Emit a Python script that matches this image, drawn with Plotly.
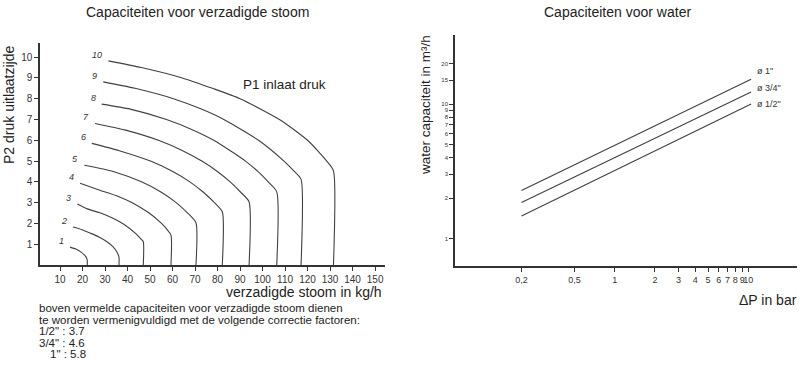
import plotly.graph_objects as go

# ---------------- data: saturated steam (left chart) ----------------
p1_levels = [1, 2, 3, 4, 5, 6, 7, 8, 9, 10]
steam_x = [
    [14.4, 17.0, 19.2, 20.9, 21.8, 22.1, 22.1],
    [15.7, 19.5, 23.3, 27.5, 30.7, 33.5, 35.4, 36.2, 36.2],
    [17.7, 22.1, 28.0, 33.5, 38.5, 43.8, 46.0, 47.0, 47.0],
    [18.9, 27.7, 35.9, 42.1, 49.6, 55.1, 57.6, 59.3, 59.3],
    [20.8, 33.6, 46.2, 55.0, 61.6, 66.7, 70.4, 70.4],
    [24.1, 36.3, 50.2, 60.1, 67.7, 73.7, 78.6, 82.1, 82.1],
    [25.6, 38.7, 53.7, 64.5, 73.0, 79.9, 85.6, 90.3, 94.0, 94.0],
    [28.5, 41.2, 57.3, 69.0, 78.3, 92.4, 97.9, 102.5, 106.3, 106.3],
    [29.2, 43.3, 60.4, 72.8, 82.8, 98.2, 109.5, 114.1, 117.1, 117.1],
    [31.5, 46.1, 64.3, 77.7, 90.0, 107.5, 120.0, 128.5, 131.5, 131.5],
]
steam_y = [
    [0.86, 0.77, 0.63, 0.47, 0.34, 0.22, 0],
    [1.83, 1.71, 1.54, 1.34, 1.13, 0.88, 0.60, 0.38, 0],
    [2.93, 2.70, 2.50, 2.25, 1.95, 1.50, 1.25, 1.12, 0],
    [3.93, 3.60, 3.30, 3.00, 2.50, 2.00, 1.70, 1.44, 0],
    [4.80, 4.50, 4.00, 3.50, 3.00, 2.50, 2.03, 0],
    [5.85, 5.50, 5.00, 4.50, 4.00, 3.50, 3.00, 2.56, 0],
    [6.81, 6.50, 6.00, 5.50, 5.00, 4.50, 4.00, 3.50, 3.04, 0],
    [7.74, 7.50, 7.00, 6.50, 6.00, 5.00, 4.50, 4.00, 3.52, 0],
    [8.81, 8.50, 8.00, 7.50, 7.00, 6.00, 5.00, 4.50, 4.12, 0],
    [9.82, 9.50, 9.00, 8.50, 8.00, 7.00, 6.00, 5.00, 4.53, 0],
]
steam_xticks = [10, 20, 30, 40, 50, 60, 70, 80, 90, 100, 110, 120, 130, 140, 150]
steam_yticks = [1, 2, 3, 4, 5, 6, 7, 8, 9, 10]

# ---------------- data: water (right chart) ----------------
dp_bar = [0.2, 10.5]
water_series = {
    'ø 1"': [2.27, 15.3],
    'ø 3/4"': [1.85, 12.3],
    'ø 1/2"': [1.47, 10.0],
}
water_xticks = [0.2, 0.5, 1, 2, 3, 4, 5, 6, 7, 8, 9, 10]
water_xticktext = ["0,2", "0,5", "1", "2", "3", "4", "5", "6", "7", "8", "9", "10"]
water_yticks = [1, 2, 3, 4, 5, 6, 7, 8, 9, 10, 15, 20]

correction_lines = [
    "boven vermelde capaciteiten voor verzadigde stoom dienen",
    "te worden vermenigvuldigd met de volgende correctie factoren:",
    '1/2" : 3.7',
    '3/4" : 4.6',
    '1" : 5.8',
]

# ---------------- figure ----------------
W, H = 800, 384
FONT = "Liberation Sans, Arial, sans-serif"
INK = "#333333"
LINE = "#404040"


def px(x):
    return x / W


def py(y):
    return 1 - y / H


fig = go.Figure()

for lvl, xs, ys in zip(p1_levels, steam_x, steam_y):
    fig.add_trace(go.Scatter(
        x=xs, y=ys, mode="lines", xaxis="x", yaxis="y",
        line=dict(color=LINE, width=1.1, shape="spline", smoothing=0.6),
        hoverinfo="skip", showlegend=False))
    fig.add_annotation(
        x=xs[0], y=ys[0], xref="x", yref="y", text=f"<i>{lvl}</i>",
        showarrow=False, xanchor="right", yanchor="middle",
        xshift=-4, yshift=6, font=dict(family=FONT, size=9, color=INK))

for name, vals in water_series.items():
    fig.add_trace(go.Scatter(
        x=dp_bar, y=vals, mode="lines", xaxis="x2", yaxis="y2",
        line=dict(color=LINE, width=1.1),
        hoverinfo="skip", showlegend=False))

axis_common = dict(
    showgrid=False, zeroline=False, showline=True, linecolor=INK, linewidth=1.5,
    ticks="outside", ticklen=4, tickwidth=1, tickcolor=INK, tickangle=0,
    tickfont=dict(family=FONT, size=10, color=INK), mirror=False,
)

fig.update_layout(
    width=W, height=H,
    margin=dict(l=0, r=0, t=0, b=0),
    paper_bgcolor="white", plot_bgcolor="white",
    showlegend=False,
    xaxis=dict(domain=[px(40), px(385)], range=[1.1, 154.4],
               tickvals=steam_xticks, anchor="y", **axis_common),
    yaxis=dict(domain=[py(265), py(43)], range=[0, 10.68],
               tickvals=steam_yticks, anchor="x", **axis_common),
    xaxis2=dict(domain=[px(455), px(797)], type="log", range=[-1.197, 1.365],
                tickvals=water_xticks, ticktext=water_xticktext, anchor="y2",
                **{**axis_common, "tickfont": dict(family=FONT, size=9, color=INK)}),
    yaxis2=dict(domain=[py(266), py(35)], type="log", range=[-0.2045, 1.513],
                tickvals=water_yticks, anchor="x2",
                **{**axis_common, "tickfont": dict(family=FONT, size=6, color=INK)}),
)


def note(text, x, y, size=12, xanchor="center", angle=0, color="#222222"):
    fig.add_annotation(text=text, x=px(x), y=py(y), xref="paper", yref="paper",
                       showarrow=False, xanchor=xanchor, yanchor="middle",
                       textangle=angle, font=dict(family=FONT, size=size, color=color))


note("Capaciteiten voor verzadigde stoom", 197, 12, size=14)
note("Capaciteiten voor water", 617, 12, size=14)
note("P2 druk uitlaatzijde", 9, 105, size=14, angle=-90)
note("water capaciteit in m³/h", 425, 105, size=13.5, angle=-90)
note("verzadigde stoom in kg/h", 384, 292, size=14, xanchor="right")
note("ΔP in bar", 768, 300, size=14, xanchor="center")
note("P1 inlaat druk", 284, 84, size=13.5)

label_pos = [(755, 71), (755, 87.5), (755, 104)]
for name, (lx, ly) in zip(water_series.keys(), label_pos):
    note(name, lx, ly, size=9, xanchor="left", color=INK)

line_pos = [(37, 308), (37, 319.5), (37, 331), (37, 342.5), (48, 354)]
for text, (lx, ly) in zip(correction_lines, line_pos):
    note(text, lx, ly, size=11.5, xanchor="left")

fig.write_html("out.html", config={"displayModeBar": False},
               post_script="document.body.style.margin='0';")
